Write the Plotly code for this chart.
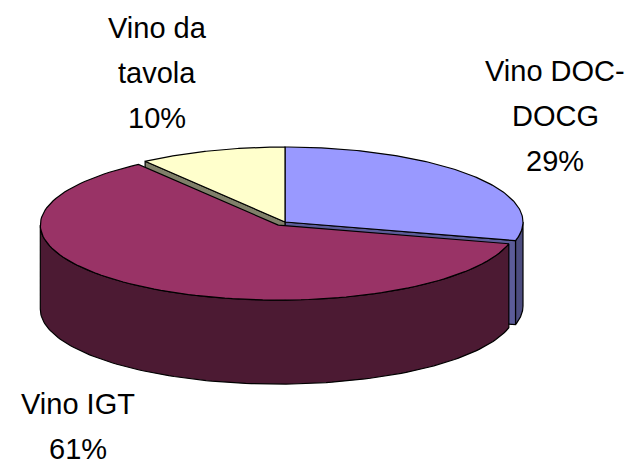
import numpy as np
import plotly.graph_objects as go

# ---- data ----
categories = ["Vino DOC-DOCG", "Vino IGT", "Vino da tavola"]
label_lines = [["Vino DOC-", "DOCG"], ["Vino IGT"], ["Vino da", "tavola"]]
values = [29, 61, 10]
exploded = [0.0, 0.05, 0.0]

# ---- styling ----
top_colors = ["#9999FF", "#993366", "#FFFFCC"]
side_colors = ["#4D4D80", "#4C1A33", "#80806A"]
cut_colors = ["#5C5C99", "#5C1F3D", "#80806A"]
label_x = [555, 78, 157]
label_y0 = [71, 404, 28]      # centre of first line
line_step = 45

W, H = 635, 465
PAD = 8  # default page body margin
cx, cy, rx, ry, depth = 285.0, 222.0, 238.0, 75.0, 84.0

total = float(sum(values))
starts, ends = [], []
acc = 0.0
for v in values:
    starts.append(acc / total * 360.0)
    acc += v
    ends.append(acc / total * 360.0)


def offset(i):
    mid = np.radians((starts[i] + ends[i]) / 2)
    e = exploded[i]
    return e * rx * np.sin(mid), -e * ry * np.cos(mid)


def arc(i, a0, a1, drop=0.0, n=120):
    ox, oy = offset(i)
    t = np.radians(np.linspace(a0, a1, n))
    return cx + ox + rx * np.sin(t), cy + oy - ry * np.cos(t) + drop


def center(i, drop=0.0):
    ox, oy = offset(i)
    return cx + ox, cy + oy + drop


def poly(xs, ys, fill):
    return go.Scatter(x=list(xs) + [xs[0]], y=list(ys) + [ys[0]], mode="lines",
                      fill="toself", fillcolor=fill,
                      line=dict(color="black", width=1.2),
                      hoverinfo="skip", showlegend=False)


def side_traces(i):
    tr = []
    s, e = starts[i], ends[i]
    a0, a1 = max(s, 90.0), min(e, 270.0)
    if a1 > a0:
        xt, yt = arc(i, a0, a1)
        xb, yb = arc(i, a0, a1, drop=depth)
        tr.append(poly(np.concatenate([xt, xb[::-1]]), np.concatenate([yt, yb[::-1]]), side_colors[i]))
    for ang, vis in ((s, np.sin(np.radians(s)) < -1e-9), (e, np.sin(np.radians(e)) > 1e-9)):
        if vis:
            c0x, c0y = center(i)
            c1x, c1y = center(i, depth)
            rxp, ryp = arc(i, ang, ang, n=1)
            tr.append(poly([c0x, rxp[0], rxp[0], c1x], [c0y, ryp[0], ryp[0] + depth, c1y], cut_colors[i]))
    return tr


def top_trace(i):
    xs, ys = arc(i, starts[i], ends[i])
    c0x, c0y = center(i)
    return poly(np.concatenate([[c0x], xs]), np.concatenate([[c0y], ys]), top_colors[i])


fig = go.Figure()
back = [i for i in range(len(values)) if exploded[i] == 0]
front = [i for i in range(len(values)) if exploded[i] != 0]
for i in back:
    for t in side_traces(i):
        fig.add_trace(t)
for i in back:
    fig.add_trace(top_trace(i))
for i in front:
    for t in side_traces(i):
        fig.add_trace(t)
    fig.add_trace(top_trace(i))

for i in range(len(values)):
    pct = round(values[i] / total * 100)
    lines = label_lines[i] + [f"{pct}%"]
    for k, txt in enumerate(lines):
        fig.add_annotation(x=label_x[i], y=label_y0[i] + k * line_step, xref="x", yref="y",
                           text=txt, showarrow=False,
                           xanchor="center", yanchor="middle",
                           font=dict(family="Liberation Sans, Arial", size=29, color="black"))

fig.update_layout(width=W - PAD, height=H - PAD, margin=dict(l=0, r=0, t=0, b=0),
                  paper_bgcolor="white", plot_bgcolor="white",
                  xaxis=dict(range=[PAD, W], visible=False, fixedrange=True),
                  yaxis=dict(range=[H, PAD], visible=False, fixedrange=True))
fig.write_html("out.html")
